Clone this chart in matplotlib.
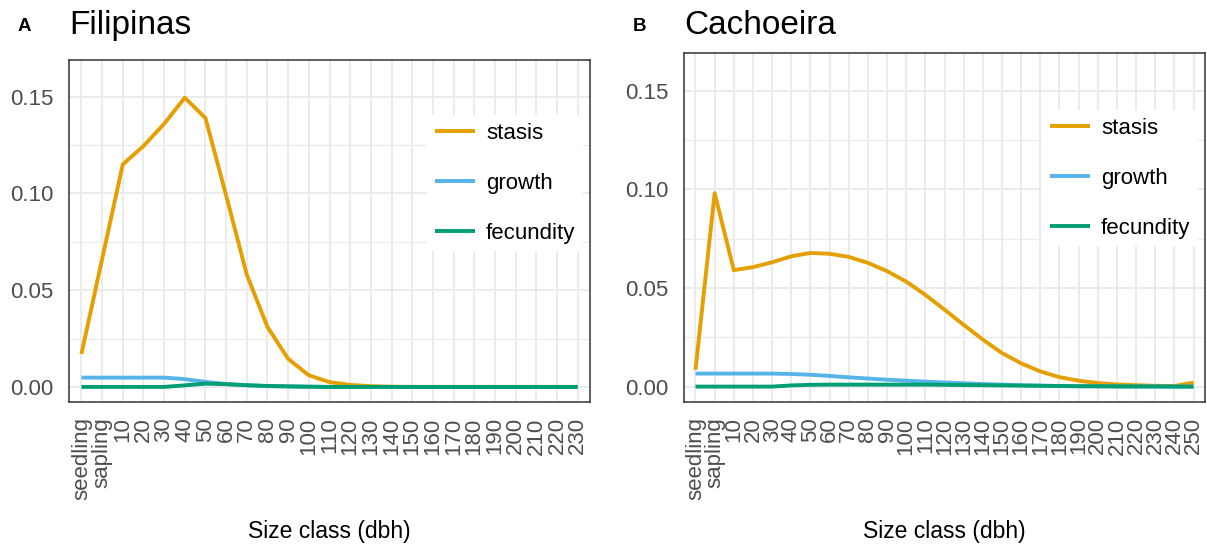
import matplotlib
matplotlib.use("Agg")
import matplotlib.pyplot as plt
from matplotlib.ticker import FixedLocator

plt.rcParams["font.family"] = ["Liberation Sans", "DejaVu Sans"]

# Size classes
fil_classes = ["seedling", "sapling", "10", "20", "30", "40", "50", "60", "70", "80",
               "90", "100", "110", "120", "130", "140", "150", "160", "170", "180",
               "190", "200", "210", "220", "230"]
cac_classes = fil_classes + ["240", "250"]

# Filipinas (panel A)
fil_stasis = [0.017, 0.066, 0.115, 0.1245, 0.136, 0.1495, 0.139, 0.099, 0.058, 0.031,
              0.0145, 0.006, 0.0025, 0.001, 0.0004, 0.0001, 0, 0, 0, 0,
              0, 0, 0, 0, 0]
fil_growth = [0.0048, 0.0048, 0.0048, 0.0048, 0.0048, 0.004, 0.0026, 0.0015, 0.0008, 0.0004,
              0.0002, 0.0001, 0, 0, 0, 0, 0, 0, 0, 0,
              0, 0, 0, 0, 0]
fil_fecundity = [0, 0, 0, 0, 0, 0.0008, 0.0017, 0.0014, 0.0009, 0.0005,
                 0.0003, 0.0001, 0, 0, 0, 0, 0, 0, 0, 0,
                 0, 0, 0, 0, 0]

# Cachoeira (panel B)
cac_stasis = [0.0085, 0.098, 0.059, 0.0605, 0.063, 0.066, 0.0677, 0.0673, 0.0657, 0.0627,
              0.0585, 0.0532, 0.0465, 0.039, 0.0313, 0.0238, 0.017, 0.0118, 0.0077, 0.0048,
              0.003, 0.0018, 0.0011, 0.0007, 0.0004, 0.0003, 0.002]
cac_growth = [0.0066, 0.0066, 0.0066, 0.0066, 0.0066, 0.0064, 0.006, 0.0054, 0.0047, 0.0041,
              0.0035, 0.003, 0.0025, 0.0021, 0.0017, 0.0013, 0.001, 0.0007, 0.0005, 0.0003,
              0.0002, 0.0001, 0.0001, 0, 0, 0, 0]
cac_fecundity = [0, 0, 0, 0, 0, 0.0006, 0.0009, 0.001, 0.001, 0.001,
                 0.001, 0.001, 0.001, 0.0009, 0.0008, 0.0007, 0.0006, 0.0005, 0.0004, 0.0003,
                 0.0002, 0.0002, 0.0001, 0.0001, 0.0001, 0, 0]

series_names = ["stasis", "growth", "fecundity"]
colors = ["#E69F00", "#56B4E9", "#009E73"]

W, H = 1207, 544
fig = plt.figure(figsize=(W / 100, H / 100), dpi=100)


def draw_panel(rect_px, classes, series, title, tag, tag_x, leg_px):
    left, top, right, bottom = rect_px
    ax = fig.add_axes([left / W, 1 - bottom / H, (right - left) / W, (bottom - top) / H])
    x = list(range(len(classes)))
    for vals, name, col in zip(series, series_names, colors):
        ax.plot(x, vals, color=col, lw=2.8, label=name, solid_capstyle="butt", zorder=3)

    ax.set_xlim(-0.6, len(classes) - 0.4)
    ax.set_ylim(-0.0078, 0.169)
    ax.set_xticks(x)
    ax.set_xticklabels(classes, rotation=90)
    ax.set_yticks([0, 0.05, 0.10, 0.15])
    ax.set_yticklabels(["0.00", "0.05", "0.10", "0.15"])
    ax.yaxis.set_minor_locator(FixedLocator([0.025, 0.075, 0.125]))
    ax.tick_params(which="both", length=0, pad=11, labelsize=16, colors="#4D4D4D")

    ax.grid(True, which="major", color="#EBEBEB", lw=1.4, zorder=0)
    ax.grid(True, which="minor", axis="y", color="#EBEBEB", lw=0.8, zorder=0)
    ax.set_axisbelow(True)
    for s in ax.spines.values():
        s.set_color("#333333")
        s.set_linewidth(1.1)

    ax.set_xlabel("Size class (dbh)", fontsize=16.5, color="black")
    ax.xaxis.set_label_coords((left + right) / 2 / W, 1 - 538 / H, transform=fig.transFigure)
    ax.xaxis.label.set_va("baseline")

    # legend box top, in pixels from the top of the figure
    leg_top = (bottom - leg_px) / (bottom - top)
    leg = ax.legend(loc="upper right", bbox_to_anchor=(0.987, leg_top), fontsize=16,
                    frameon=True, fancybox=False, edgecolor="white", facecolor="white",
                    framealpha=1, borderaxespad=0, borderpad=0.35, handlelength=1.8,
                    handletextpad=0.5, labelspacing=1.3)
    leg.get_frame().set_linewidth(0)

    fig.text(left / W, 1 - 34 / H, title, fontsize=24, va="baseline", ha="left")
    fig.text(tag_x / W, 1 - 31 / H, tag, fontsize=13.5, fontweight="bold", va="baseline")
    return ax


draw_panel((69, 60, 590, 402), fil_classes, [fil_stasis, fil_growth, fil_fecundity],
           "Filipinas", "A", 18, 115)
draw_panel((684, 53, 1205, 402), cac_classes, [cac_stasis, cac_growth, cac_fecundity],
           "Cachoeira", "B", 633, 110)

fig.savefig("out.png", dpi=100)
